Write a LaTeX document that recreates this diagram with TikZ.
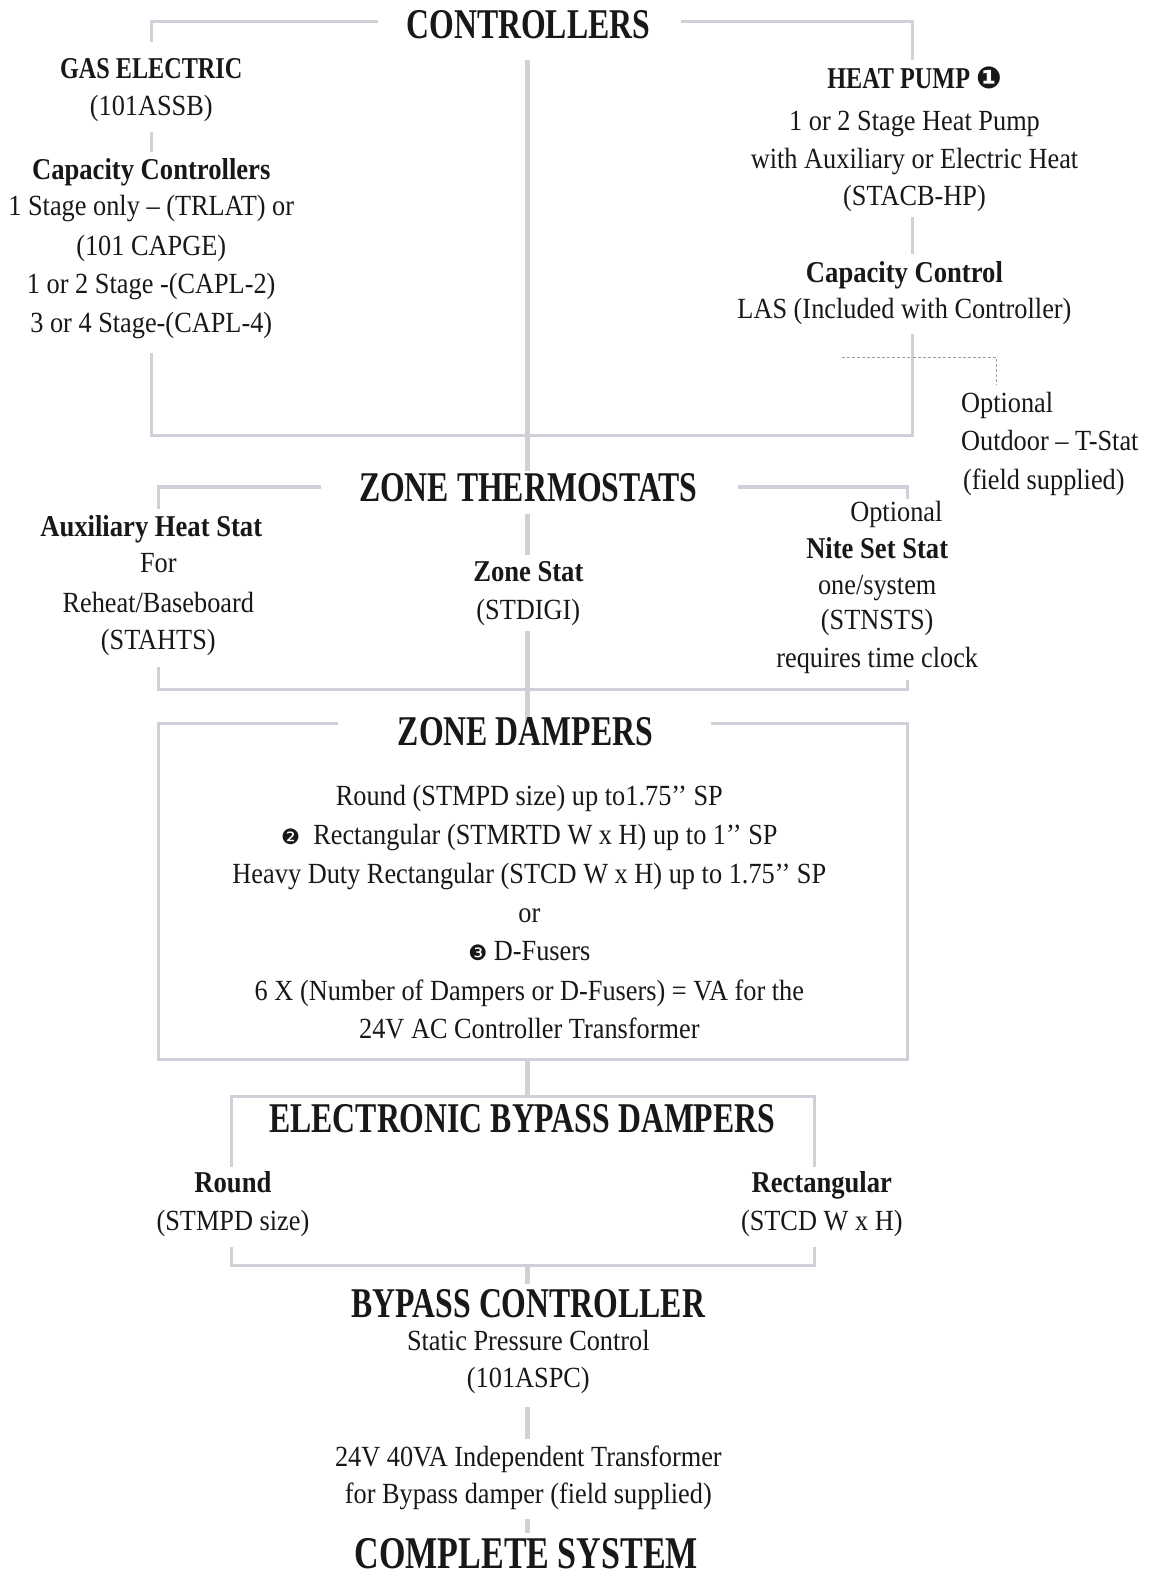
\documentclass[tikz,border=0pt]{standalone}
\usepackage{fontspec}
\setmainfont{Liberation Serif}[FakeStretch=0.9]
\newfontfamily\hdfont{Liberation Serif}[FakeStretch=0.75]
\newfontfamily\capfont{Liberation Serif}[FakeStretch=0.8]
\newfontfamily\subfont{Liberation Serif}[FakeStretch=0.88]
\newfontfamily\dingfont{DejaVu Sans}
\definecolor{linegray}{RGB}{206,209,215}
\definecolor{ink}{RGB}{25,23,25}
\begin{document}
\begin{tikzpicture}[x=1pt,y=-1pt,
  every node/.style={inner sep=0pt, text=ink},
  hd/.style={anchor=base, font=\hdfont\bfseries\fontsize{42}{42}\selectfont},
  sub/.style={anchor=base, font=\subfont\bfseries\fontsize{30}{30}\selectfont},
  capsub/.style={anchor=base, font=\capfont\bfseries\fontsize{30}{30}\selectfont},
  body/.style={anchor=base, font=\fontsize{29}{29}\selectfont},
  bodyl/.style={anchor=base west, font=\fontsize{29}{29}\selectfont},
  conn/.style={draw=linegray, line width=3pt},
  spine/.style={draw=linegray, line width=5pt},
  opt/.style={draw=linegray!75!black, line width=0.8pt, dash pattern=on 3pt off 2pt}]
\useasboundingbox (0,0) rectangle (1146,1568);
\fill[white] (0,0) rectangle (1146,1568);

% ---------- CONTROLLERS ----------
\node[hd] (ctrl) at (524,38) {CONTROLLERS};
\node[capsub] (gas) at (150,78) {GAS ELECTRIC};
\node[body] (assb) at (150,115) {(101ASSB)};
\node[sub] (capc) at (150,178) {Capacity Controllers};
\node[body] (c1) at (150,214) {1 Stage only -- (TRLAT) or};
\node[body] (c2) at (150,253) {(101 CAPGE)};
\node[body] (c3) at (150,291) {1 or 2 Stage -(CAPL-2)};
\node[body] (c4) at (150,330) {3 or 4 Stage-(CAPL-4)};

\node[capsub] (hp) at (907,88) {HEAT PUMP {\dingfont\fontsize{30}{30}\selectfont ❶}};
\node[body] (hp1) at (907,129) {1 or 2 Stage Heat Pump};
\node[body] (hp2) at (907,167) {with Auxiliary or Electric Heat};
\node[body] (hp3) at (907,204) {(STACB-HP)};
\node[sub] (cctl) at (897,280) {Capacity Control};
\node[body] (las) at (897,316) {LAS (Included with Controller)};

\node[bodyl] (od1) at (953,409) {Optional};
\node[bodyl] (od2) at (953,447) {Outdoor -- T-Stat};
\node[bodyl] (od3) at (955,485) {(field supplied)};

\coordinate (tlA) at (375,21); \coordinate (tlB) at (150,21); \coordinate (tlC) at (150,42);
\coordinate (trA) at (675,21); \coordinate (trB) at (905,21); \coordinate (trC) at (905,60);
\coordinate (lmA) at (150,131); \coordinate (lmB) at (150,151);
\coordinate (rmA) at (905,215); \coordinate (rmB) at (905,252);
\coordinate (blA) at (150,350); \coordinate (blB) at (150,432);
\coordinate (brB) at (905,432); \coordinate (brA) at (905,331);
\coordinate (spA) at (523,60); \coordinate (spB) at (523,467);
\coordinate (dA) at (835,354); \coordinate (dB) at (988,354); \coordinate (dC) at (988,382);

\draw[conn] (tlA) -- (tlB) -- (tlC);
\draw[conn] (trA) -- (trB) -- (trC);
\draw[conn] (lmA) -- (lmB);
\draw[conn] (rmA) -- (rmB);
\draw[conn] (blA) -- (blB) -- (brB) -- (brA);
\draw[spine] (spA) -- (spB);
\draw[opt] (dA) -- (dB) -- (dC);

% ---------- ZONE THERMOSTATS ----------
\node[hd] (zt) at (524,497) {ZONE THERMOSTATS};
\node[sub] (aux) at (150,532) {Auxiliary Heat Stat};
\node[body] (aux1) at (157,568) {For};
\node[body] (aux2) at (157,607) {Reheat/Baseboard};
\node[body] (aux3) at (157,644) {(STAHTS)};
\node[sub] (zs) at (524,577) {Zone Stat};
\node[body] (zs1) at (524,614) {(STDIGI)};
\node[body] (ns0) at (889,517) {Optional};
\node[sub] (ns) at (870,554) {Nite Set Stat};
\node[body] (ns1) at (870,590) {one/system};
\node[body] (ns2) at (870,624) {(STNSTS)};
\node[body] (ns3) at (870,662) {requires time clock};

\coordinate (ztlA) at (318,483); \coordinate (ztlB) at (157,483); \coordinate (ztlC) at (157,505);
\coordinate (ztrA) at (732,483); \coordinate (ztrB) at (900,483); \coordinate (ztrC) at (900,495);
\coordinate (zcA) at (523,510); \coordinate (zcB) at (523,550);
\coordinate (zbA) at (157,662); \coordinate (zbB) at (157,684);
\coordinate (zbC) at (900,684); \coordinate (zbD) at (900,674);
\coordinate (zcC) at (523,626); \coordinate (zcD) at (523,718);

\draw[conn] (ztlA) -- (ztlB) -- (ztlC);
\draw[conn] (ztrA) -- (ztrB) -- (ztrC);
\draw[spine] (zcA) -- (zcB);
\draw[conn] (zbA) -- (zbB) -- (zbC) -- (zbD);
\draw[spine] (zcC) -- (zcD);

% ---------- ZONE DAMPERS ----------
\node[hd] (zd) at (521,739) {ZONE DAMPERS};
\node[body] (zd1) at (525,799) {Round (STMPD size) up to1.75’’ SP};
\node[body] (zd2) at (525,838) {{\dingfont\fontsize{21}{21}\selectfont ❷}\ \ Rectangular (STMRTD W x H) up to 1’’ SP};
\node[body] (zd3) at (525,876) {Heavy Duty Rectangular (STCD W x H) up to 1.75’’ SP};
\node[body] (zd4) at (525,915) {or};
\node[body] (zd5) at (525,953) {{\dingfont\fontsize{21}{21}\selectfont ❸} D-Fusers};
\node[body] (zd6) at (525,992) {6 X (Number of Dampers or D-Fusers) = VA for the};
\node[body] (zd7) at (525,1030) {24V AC Controller Transformer};

\coordinate (zdA) at (335,718); \coordinate (zdB) at (157,718); \coordinate (zdC) at (157,1051);
\coordinate (zdD) at (900,1051); \coordinate (zdE) at (900,718); \coordinate (zdF) at (705,718);
\coordinate (zdG) at (523,1051); \coordinate (zdH) at (523,1087);
\draw[conn] (zdA) -- (zdB) -- (zdC) -- (zdD) -- (zdE) -- (zdF);
\draw[spine] (zdG) -- (zdH);

% ---------- ELECTRONIC BYPASS DAMPERS ----------
\node[hd] (ebd) at (518,1123) {ELECTRONIC BYPASS DAMPERS};
\node[sub] (rd) at (231,1183) {Round};
\node[body] (rd1) at (231,1220) {(STMPD size)};
\node[sub] (rc) at (815,1183) {Rectangular};
\node[body] (rc1) at (815,1220) {(STCD W x H)};

\coordinate (ebA) at (230,1157); \coordinate (ebB) at (230,1087);
\coordinate (ebC) at (808,1087); \coordinate (ebD) at (808,1157);
\coordinate (ebE) at (230,1237); \coordinate (ebF) at (230,1255);
\coordinate (ebG) at (808,1255); \coordinate (ebH) at (808,1237);
\coordinate (ebI) at (523,1255); \coordinate (ebJ) at (523,1273);
\draw[conn] (ebA) -- (ebB) -- (ebC) -- (ebD);
\draw[conn] (ebE) -- (ebF) -- (ebG) -- (ebH);
\draw[spine] (ebI) -- (ebJ);

% ---------- BYPASS CONTROLLER ----------
\node[hd] (bpc) at (524,1307) {BYPASS CONTROLLER};
\node[body] (bpc1) at (524,1339) {Static Pressure Control};
\node[body] (bpc2) at (524,1376) {(101ASPC)};
\coordinate (bcA) at (523,1395); \coordinate (bcB) at (523,1427);
\draw[spine] (bcA) -- (bcB);
\node[body] (tr1) at (524,1454) {24V 40VA Independent Transformer};
\node[body] (tr2) at (524,1491) {for Bypass damper (field supplied)};
\coordinate (bcC) at (523,1506); \coordinate (bcD) at (523,1520);
\draw[spine] (bcC) -- (bcD);

\node[anchor=base, text depth=0pt, font=\hdfont\bfseries\fontsize{45}{45}\selectfont] (cs) at (522,1556) {COMPLETE SYSTEM};
\end{tikzpicture}
\end{document}
